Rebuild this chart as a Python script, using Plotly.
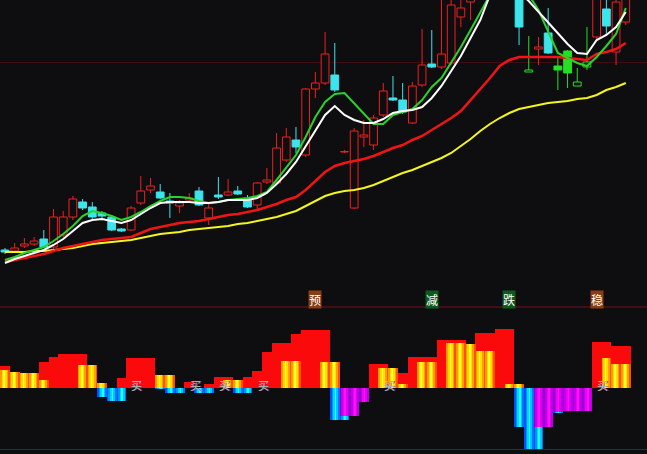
import plotly.graph_objects as go

# ---------------- data ----------------
idx = list(range(65))

open_ = [5.0, 4.9, 5.4, 5.6, 6.1, 5.3, 6.5, 8.3, 9.8, 9.3,
         8.7, 8.3, 7.1, 7.0, 9.7, 11.0, 10.8, 9.9, 9.4, 10.0,
         10.9, 8.2, 10.5, 10.5, 10.9, 10.0, 9.5, 11.8, 11.7, 14.0,
         16.0, 14.5, 21.1, 21.7, 22.5, 14.8, 9.2, 16.3, 15.5, 18.5,
         20.2, 20.0, 17.7, 21.5, 23.6, 23.3, 23.7, 28.3, 29.8, 32.0,
         34.0, 35.5, 34.5, 31.0, 22.8, 25.1, 26.7, 23.4, 24.9, 21.4,
         23.3, 26.3, 29.1, 24.8, 27.8]
high = [5.2, 5.7, 6.2, 6.3, 7.0, 9.1, 8.9, 10.4, 10.1, 9.8,
        8.9, 8.5, 7.2, 9.4, 12.4, 12.2, 11.6, 10.7, 10.0, 10.7,
        11.3, 9.8, 12.3, 12.1, 11.4, 10.5, 11.8, 13.2, 16.7, 17.2,
        17.3, 21.2, 22.8, 26.8, 25.7, 15.0, 17.2, 18.0, 18.5, 21.7,
        22.4, 21.7, 21.8, 27.1, 27.0, 30.2, 31.0, 30.5, 33.0, 35.0,
        36.5, 36.8, 35.0, 32.0, 26.4, 26.3, 29.2, 24.2, 25.0, 23.2,
        27.3, 31.0, 30.2, 30.5, 31.0]
low = [4.6, 4.7, 5.2, 5.4, 5.2, 5.1, 6.3, 8.0, 9.0, 8.1,
       8.2, 6.9, 6.8, 6.9, 9.5, 10.7, 10.1, 8.2, 8.7, 9.9,
       9.4, 7.5, 10.1, 10.4, 10.5, 9.2, 9.0, 11.6, 11.6, 13.8,
       14.7, 14.3, 20.2, 21.5, 20.8, 14.7, 9.1, 15.3, 15.0, 18.3,
       19.9, 18.6, 17.6, 21.3, 23.2, 23.1, 23.5, 27.3, 28.0, 31.5,
       33.0, 33.5, 31.0, 25.5, 22.8, 23.5, 24.6, 21.0, 21.2, 21.4,
       23.0, 26.0, 26.5, 23.5, 27.5]
close = [4.8, 5.2, 5.6, 5.9, 5.3, 8.3, 8.3, 10.1, 9.2, 8.3,
         8.4, 7.0, 6.9, 9.2, 10.9, 11.4, 10.2, 9.7, 9.7, 10.2,
         9.5, 9.2, 10.3, 10.8, 10.6, 9.3, 11.7, 12.0, 15.2, 16.3,
         15.3, 21.1, 21.7, 24.6, 21.0, 14.85, 16.9, 16.5, 18.2, 20.9,
         20.0, 18.8, 21.4, 23.5, 23.3, 24.6, 29.5, 29.2, 32.0, 34.0,
         35.5, 34.5, 33.0, 27.3, 23.0, 25.3, 24.7, 23.0, 22.7, 21.8,
         23.8, 30.5, 27.4, 29.8, 30.2]

# candles highlighted in green by the chart's signal
green_idx = [54, 57, 58, 59, 60]

ma_white = [3.7, 4.1, 4.4, 4.7, 5.0, 5.5, 6.1, 6.9, 7.7, 8.0,
            8.1, 7.9, 7.7, 8.0, 8.6, 9.2, 9.7, 9.8, 9.8, 9.8,
            9.7, 9.7, 9.8, 10.0, 10.0, 10.0, 10.2, 10.7, 11.6, 12.6,
            13.8, 15.4, 17.0, 18.5, 19.4, 18.5, 18.0, 17.7, 17.7, 18.1,
            18.7, 18.9, 19.0, 19.3, 20.2, 21.4, 22.9, 24.4, 26.2, 28.0,
            30.5, 31.5, 31.5, 30.8, 29.9, 28.8, 27.8, 26.7, 25.6, 24.7,
            24.6, 26.0, 26.5, 27.3, 28.8]
ma_green = [4.0, 4.3, 4.7, 5.0, 5.3, 5.9, 6.6, 7.4, 8.4, 8.9,
            8.7, 8.4, 8.0, 8.3, 8.8, 9.4, 9.9, 10.3, 10.3, 10.2,
            9.9, 9.7, 9.8, 10.0, 10.1, 10.2, 10.4, 10.8, 12.0, 13.2,
            14.5, 16.3, 18.3, 19.8, 20.6, 20.7, 19.7, 18.6, 17.6, 17.6,
            18.5, 18.8, 19.1, 20.0, 21.3, 22.2, 23.7, 25.3, 27.0, 28.8,
            30.5, 31.5, 32.0, 31.2, 30.5, 29.0, 26.8, 24.7, 24.2, 23.7,
            23.4, 24.3, 25.4, 26.6, 29.2]
ma_red = [3.8, 4.0, 4.2, 4.4, 4.6, 4.9, 5.2, 5.4, 5.6, 5.8,
          6.0, 6.1, 6.2, 6.3, 6.7, 7.1, 7.3, 7.5, 7.7, 7.8,
          7.9, 8.1, 8.3, 8.5, 8.6, 8.8, 9.0, 9.3, 9.6, 10.0,
          10.3, 11.0, 11.9, 12.8, 13.4, 13.7, 13.9, 14.1, 14.4, 14.8,
          15.2, 15.5, 16.0, 16.4, 17.0, 17.6, 18.2, 18.9, 20.0, 21.0,
          22.2, 23.4, 24.0, 24.3, 24.3, 24.3, 24.3, 24.3, 24.2, 24.1,
          24.0, 24.6, 24.8, 25.1, 25.7]
ma_yellow = [4.8, 4.8, 4.8, 4.9, 4.9, 5.0, 5.1, 5.2, 5.4, 5.6,
             5.7, 5.8, 5.9, 6.0, 6.2, 6.4, 6.6, 6.7, 6.8, 7.0,
             7.1, 7.2, 7.3, 7.4, 7.6, 7.7, 7.9, 8.1, 8.3, 8.6,
             8.9, 9.4, 9.9, 10.4, 10.7, 10.9, 11.0, 11.2, 11.5, 11.9,
             12.3, 12.7, 13.0, 13.4, 13.8, 14.2, 14.7, 15.4, 16.1, 16.9,
             17.6, 18.2, 18.7, 19.1, 19.3, 19.5, 19.7, 19.8, 19.9, 20.1,
             20.2, 20.5, 21.0, 21.3, 21.7]

# lower indicator
ind_red = [2.2, 0, 0, 0, 2.6, 3.1, 3.4, 3.4, 3.4, 0,
           0, 0, 1.0, 3.0, 3.0, 3.0, 0, 0, 0, 0.6,
           0, 0.4, 1.1, 1.1, 0, 1.1, 1.7, 3.6, 4.5, 4.5,
           5.4, 5.8, 5.8, 5.8, 0, 0, 0, 0, 2.4, 2.4,
           0, 1.5, 3.1, 3.1, 3.1, 4.8, 4.8, 4.8, 0, 5.5,
           5.5, 5.9, 5.9, 0, 0, 0, 0, 0, 0, 0,
           0, 4.6, 4.6, 4.2, 4.2]
ind_yellow = [1.8, 1.6, 1.5, 1.5, 0.8, 0, 0, 0, 2.3, 2.3,
              0.5, 0, 0, 0, 0, 0, 1.3, 1.3, 0, 0,
              0, 0, 0, 0.8, 0.8, 0, 0, 0, 0, 2.7,
              2.7, 0, 0, 2.6, 2.6, 0, 0, 0, 0, 2.0,
              2.0, 0.4, 0, 2.6, 2.6, 0, 4.5, 4.5, 4.4, 3.7,
              3.7, 0, 0.4, 0.4, 0, 0, 0, 0, 0, 0,
              0, 0, 3.0, 2.4, 2.4]
ind_blue = [0, 0, 0, 0, 0, 0, 0, 0, 0, 0,
            -0.9, -1.3, -1.3, 0, 0, 0, -0.1, -0.5, -0.5, 0,
            -0.5, -0.5, 0, 0, -0.5, -0.5, 0, 0, 0, 0,
            0, 0, 0, 0, -3.2, -3.2, 0, 0, 0, 0,
            0, 0, 0, 0, 0, 0, 0, 0, 0, 0,
            0, 0, 0, -3.9, -6.1, -6.1, 0, -2.5, 0, 0,
            0, 0, 0, 0, 0]
ind_magenta = [0, 0, 0, 0, 0, 0, 0, 0, 0, 0,
               0, 0, 0, 0, 0, 0, 0, 0, 0, 0,
               0, 0, 0, 0, 0, 0, 0, 0, 0, 0,
               0, 0, 0, 0, 0, -2.8, -2.8, -1.4, 0, 0,
               0, 0, 0, 0, 0, 0, 0, 0, 0, 0,
               0, 0, 0, 0, 0, -3.9, -3.9, -2.4, -2.3, -2.3,
               -2.3, 0, 0, 0, 0]

buy_idx = [14, 20, 23, 27, 40, 62]
buy_text = "买"
sig_idx = [32, 44, 52, 61]
sig_text = ["预", "减", "跌", "稳"]
sig_kind = ["warm", "cool", "cool", "warm"]

# ---------------- style ----------------
BG = "#0e0e11"
RED = "#f01e1e"
CYAN = "#3ce4ec"
GREEN = "#22e022"
YELLOW_GRAD = ["#ff9a00", "#ffd800", "#ffff30", "#ffe000", "#ffa000", "#ff5000"]
BLUE_GRAD = ["#0050ff", "#0090ff", "#00d8ff", "#20ffff", "#00c8ff", "#0070ff"]
MAG_GRAD = ["#9000c8", "#c000e8", "#f000ff", "#ff10ff", "#e000f0", "#b800e0"]
SIG_BG = {"warm": "#8a3c12", "cool": "#0c5a1c"}

fig = go.Figure()

# candle groups
groups = {}
for i in idx:
    up = close[i] >= open_[i]
    if i in green_idx:
        color = GREEN
    else:
        color = RED if up else CYAN
    groups.setdefault((color, up), []).append(i)

for (color, up), sel in groups.items():
    fig.add_trace(go.Bar(
        x=sel,
        y=[max(abs(close[i] - open_[i]), 0.05) for i in sel],
        base=[min(open_[i], close[i]) for i in sel],
        width=0.8,
        marker=dict(color=BG if up else color, line=dict(color=color, width=1)),
        xaxis="x", yaxis="y", hoverinfo="skip"))

wick_colors = {}
for (color, up), sel in groups.items():
    wick_colors.setdefault(color, []).extend(sel)
for color, sel in wick_colors.items():
    xs, ys = [], []
    for i in sorted(sel):
        top = max(open_[i], close[i])
        bot = min(open_[i], close[i])
        if high[i] > top:
            xs += [i, i, None]
            ys += [top, high[i], None]
        if low[i] < bot:
            xs += [i, i, None]
            ys += [low[i], bot, None]
    fig.add_trace(go.Scatter(x=xs, y=ys, mode="lines", line=dict(color=color, width=1),
                             xaxis="x", yaxis="y", hoverinfo="skip"))

# moving averages
for vals, col, w in [(ma_yellow, "#f5f51e", 2), (ma_red, "#f01414", 2.5),
                     (ma_green, "#2ad22a", 2), (ma_white, "#ffffff", 2)]:
    fig.add_trace(go.Scatter(x=idx, y=vals, mode="lines", line=dict(color=col, width=w),
                             xaxis="x", yaxis="y", hoverinfo="skip"))

# lower indicator bars
def solid_bars(vals, color):
    xs = [i for i, v in zip(idx, vals) if v]
    ys = [v for v in vals if v]
    fig.add_trace(go.Bar(x=xs, y=ys, width=1.0, marker=dict(color=color, line=dict(width=0)),
                         xaxis="x", yaxis="y2", hoverinfo="skip"))

def gradient_bars(vals, colors, W=1.0):
    xs = [i for i, v in zip(idx, vals) if v]
    ys = [v for v in vals if v]
    n = len(colors)
    for k, c in enumerate(colors):
        fig.add_trace(go.Bar(x=xs, y=ys, width=W / n * 1.08, offset=-W / 2 + k * W / n,
                             marker=dict(color=c, line=dict(width=0)),
                             xaxis="x", yaxis="y2", hoverinfo="skip"))

solid_bars(ind_red, "#fa0a0a")
gradient_bars(ind_yellow, YELLOW_GRAD)
gradient_bars(ind_blue, BLUE_GRAD)
gradient_bars(ind_magenta, MAG_GRAD)

annotations = []
for i in buy_idx:
    annotations.append(dict(x=i - 0.4, y=0.3, xref="x", yref="y2", text=buy_text,
                            showarrow=False,
                            font=dict(family="Noto Sans CJK SC", size=11, color="#a8c8a0",
                                      shadow="1px 0px 0px #c020c0")))
for i, t, k in zip(sig_idx, sig_text, sig_kind):
    annotations.append(dict(x=i, y=1 - 299 / 454, xref="x", yref="paper", text=t,
                            showarrow=False, bgcolor=SIG_BG[k], borderpad=0,
                            font=dict(family="Noto Sans CJK SC", size=12, color="#ffffff")))

split = 1 - 307 / 454
fig.update_layout(
    width=647, height=454, margin=dict(l=0, r=0, t=0, b=0),
    paper_bgcolor=BG, plot_bgcolor=BG, showlegend=False,
    barmode="overlay", bargap=0, hovermode=False,
    xaxis=dict(range=[-0.515, 66.19], visible=False, fixedrange=True),
    yaxis=dict(domain=[split, 1], range=[-0.7, 30], tickvals=[23.8], showticklabels=False,
               showgrid=True, gridcolor="#3c0e0e", gridwidth=1, zeroline=False,
               showline=False, ticks="", fixedrange=True),
    yaxis2=dict(domain=[0, split], range=[-6.6, 8.1], tickvals=[-6.15],
                showticklabels=False, showgrid=True, gridcolor="#701414", gridwidth=1,
                zeroline=False, showline=False, ticks="", anchor="x", fixedrange=True),
    annotations=annotations,
    shapes=[dict(type="line", xref="paper", yref="paper", x0=0, x1=1, y0=split, y1=split,
                 line=dict(color="#701414", width=1), layer="below")],
)

fig.write_html(
    "out.html",
    config={"displayModeBar": False, "staticPlot": True},
    post_script="document.body.style.margin='0';document.body.style.padding='0';"
                "document.body.style.overflow='hidden';document.body.style.background='#0e0e11';",
)
